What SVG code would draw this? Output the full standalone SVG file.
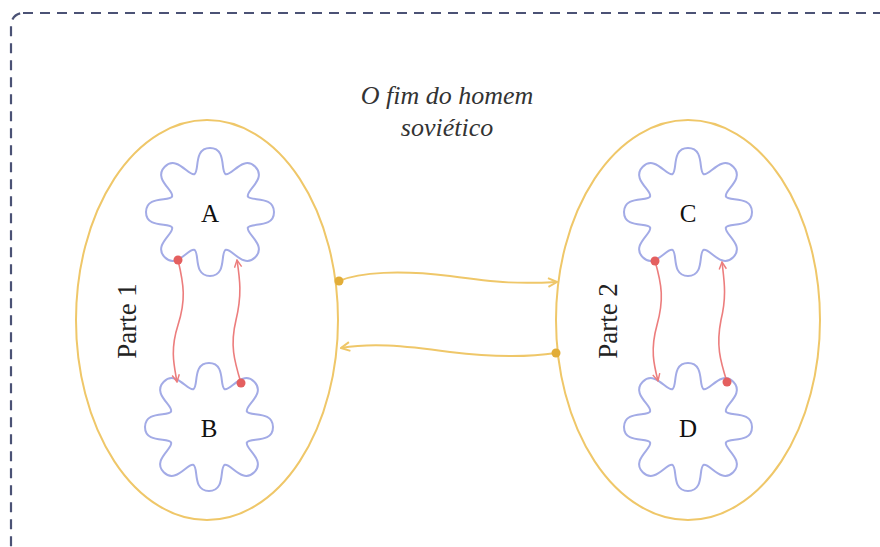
<svg xmlns="http://www.w3.org/2000/svg" width="880" height="547" viewBox="0 0 880 547">
<style>
.frame{fill:none;stroke:#4b5275;stroke-width:2.2;stroke-dasharray:10 7}
.part{fill:none;stroke:#efc769;stroke-width:2}
.flower{fill:none;stroke:#a3abe6;stroke-width:2;stroke-linecap:round}
.lbl{font-family:"Liberation Serif",serif;font-size:25px;fill:#111;text-anchor:middle}
.plbl{font-family:"Liberation Serif",serif;font-size:27px;fill:#222;text-anchor:middle}
.title{font-family:"Liberation Serif",serif;font-style:italic;font-size:26px;fill:#333;text-anchor:middle}
.red{fill:none;stroke:#ec7d7d;stroke-width:1.6}
.yel{fill:none;stroke:#efc769;stroke-width:2}
.rdot{fill:#e45f5f}
.ydot{fill:#e2ad38}
</style>
<defs>
<path id="lobe" d="M-15.69,-37.88 C-10.15,-40.18 -17,-64 0,-64 C17,-64 10.15,-40.18 15.69,-37.88"/>
<g id="fl">
<use href="#lobe"/>
<use href="#lobe" transform="rotate(45)"/>
<use href="#lobe" transform="rotate(90)"/>
<use href="#lobe" transform="rotate(135)"/>
<use href="#lobe" transform="rotate(180)"/>
<use href="#lobe" transform="rotate(225)"/>
<use href="#lobe" transform="rotate(270)"/>
<use href="#lobe" transform="rotate(315)"/>
</g>
<marker id="ar" viewBox="0 0 10 10" refX="9" refY="5" markerWidth="9" markerHeight="9" markerUnits="userSpaceOnUse" orient="auto"><path d="M1,1 L9,5 L1,9" fill="none" stroke="#ec7d7d" stroke-width="1.6"/></marker>
<marker id="ay" viewBox="0 0 10 10" refX="9" refY="5" markerWidth="11" markerHeight="11" markerUnits="userSpaceOnUse" orient="auto"><path d="M1,1 L9,5 L1,9" fill="none" stroke="#efc769" stroke-width="1.8"/></marker>
</defs>
<rect class="frame" x="11" y="13" width="900" height="545" rx="12"/>
<text class="title" x="447" y="104">O fim do homem</text>
<text class="title" x="447" y="136">soviético</text>
<g id="parte1">
<ellipse class="part" cx="207" cy="320" rx="131" ry="200"/>
<text class="plbl" transform="translate(136,321) rotate(-90)">Parte 1</text>
</g>
<g id="parte2">
<ellipse class="part" cx="688" cy="320" rx="132" ry="200"/>
<text class="plbl" transform="translate(617,321) rotate(-90)">Parte 2</text>
</g>
<g id="A"><use href="#fl" class="flower" transform="translate(210,212)"/><text class="lbl" x="210" y="222">A</text></g>
<g id="B"><use href="#fl" class="flower" transform="translate(209,427)"/><text class="lbl" x="209" y="437">B</text></g>
<g id="C"><use href="#fl" class="flower" transform="translate(688,212)"/><text class="lbl" x="688" y="222">C</text></g>
<g id="D"><use href="#fl" class="flower" transform="translate(688,427)"/><text class="lbl" x="688" y="437">D</text></g>
<g id="connectors">
<path class="red" d="M178,260 C184,285 186,300 178,325 C170,350 174,365 177,382" marker-end="url(#ar)"/>
<path class="red" d="M241,383 C234,360 230,345 236,320 C242,295 240,280 237,260" marker-end="url(#ar)"/>
<path class="red" d="M655,261 C662,285 664,300 657,325 C650,350 654,365 658,381" marker-end="url(#ar)"/>
<path class="red" d="M727,382 C720,360 716,345 721,320 C727,295 724,280 722,262" marker-end="url(#ar)"/>
<path class="yel" d="M339,281 C360,272 400,270 450,276 C500,283 520,284 557,282" marker-end="url(#ay)"/>
<path class="yel" d="M556,353 C530,357 500,358 450,352 C400,345 370,343 341,348" marker-end="url(#ay)"/>
<circle class="rdot" cx="178" cy="260" r="4.5"/>
<circle class="rdot" cx="241" cy="383" r="4.5"/>
<circle class="rdot" cx="655" cy="261" r="4.5"/>
<circle class="rdot" cx="727" cy="382" r="4.5"/>
<circle class="ydot" cx="339" cy="281" r="4.5"/>
<circle class="ydot" cx="556" cy="353" r="4.5"/>
</g>
</svg>
